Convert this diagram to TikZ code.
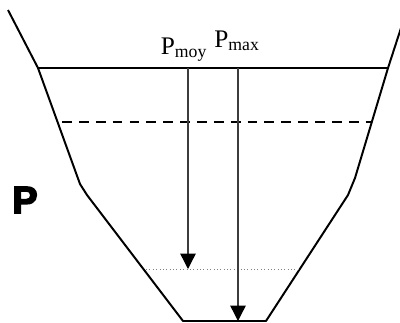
\documentclass[tikz,border=0pt]{standalone}
\usepackage{fontspec}
\setmainfont{Liberation Serif}
\newfontfamily\heavyfont[FakeBold=4]{Liberation Sans Bold}
\usetikzlibrary{arrows.meta}
\definecolor{arrowgray}{RGB}{60,60,60}

\begin{document}
\begin{tikzpicture}[x=0.025cm, y=-0.025cm]
                \useasboundingbox (0,0) rectangle (400,322);
                % bank profile
                \draw[line width=1.4pt, line join=round] (8,10) -- (38,68) -- (80,184) -- (87,195) -- (183,321)
                    -- (266,321) -- (348,195) -- (355,178) -- (388,68) -- (401,28);
                \draw[line width=1.4pt] (38,68) -- (388,68);
                \draw[line width=1pt, dash pattern=on 7pt off 5pt] (62,122) -- (372,122);
                \draw[gray, thin, dotted] (146,269) -- (298,269);
                % depths
                \coordinate (moytop) at (188,68);
                \coordinate (moybot) at (188,269);
                \coordinate (maxtop) at (238,68);
                \coordinate (maxbot) at (238,321);
                \draw[arrowgray, line width=1pt, -{Triangle[width=11pt, length=11pt, color=black]}] (moytop) -- (moybot);
                \draw[arrowgray, line width=1pt, -{Triangle[width=11pt, length=11pt, color=black]}] (maxtop) -- (maxbot);
                \node[anchor=base, inner sep=0pt, font=\fontsize{18}{21}\selectfont] (pmoy) at (184,54) {P\textsubscript{moy}};
                \node[anchor=base, inner sep=0pt, font=\fontsize{18}{21}\selectfont] (pmax) at (237,47) {P\textsubscript{max}};
                \node[anchor=base, inner sep=0pt, font=\fontsize{27}{30}\selectfont\heavyfont] (p) at (25,213) {P};
            \end{tikzpicture}
\end{document}
